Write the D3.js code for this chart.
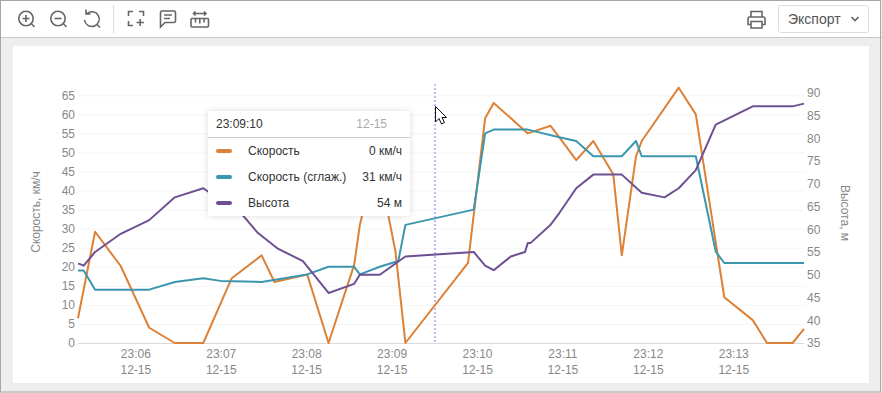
<!DOCTYPE html>
<html>
<head>
<meta charset="utf-8">
<style>
  html, body { margin: 0; padding: 0; background: #fff; }
  svg { display: block; font-family: "Liberation Sans", Arial, sans-serif; }
  .grid line { stroke: #f5f5f5; }
  .grid path { display: none; }
  .tick-label text { fill: #888; font-size: 12px; }
  .icon { fill: none; stroke: #666; stroke-width: 1.6; }
</style>
<script src="https://cdnjs.cloudflare.com/ajax/libs/d3/7.8.5/d3.min.js"></script>
</head>
<body>
<svg id="chart" width="882" height="393"></svg>
<script>
// data
const leftTicks = [0, 5, 10, 15, 20, 25, 30, 35, 40, 45, 50, 55, 60, 65];
const rightTicks = [35, 40, 45, 50, 55, 60, 65, 70, 75, 80, 85, 90];
const minuteTicks = ['23:06:00', '23:07:00', '23:08:00', '23:09:00', '23:10:00', '23:11:00', '23:12:00', '23:13:00'];
const dateLabel = '12-15';

const speedTimes = ['23:05:19', '23:05:31', '23:05:49', '23:06:09', '23:06:27', '23:06:47', '23:07:07', '23:07:28', '23:07:37', '23:08:00', '23:08:15', '23:08:33', '23:08:37', '23:08:46', '23:08:57', '23:09:02', '23:09:09', '23:09:53', '23:10:05', '23:10:11', '23:10:35', '23:10:51', '23:10:57', '23:11:09', '23:11:21', '23:11:35', '23:11:41', '23:11:51', '23:11:55', '23:12:21', '23:12:33', '23:12:53', '23:13:13', '23:13:23', '23:13:41', '23:13:49'];
const speedValues = [6.5, 29.2, 20.2, 4, 0, 0, 17, 23, 16, 18, 0, 20.5, 31, 45, 33.5, 24, 0, 21, 59, 63, 55, 57, 54, 48, 53, 44.3, 23, 49, 53, 67, 60, 12, 6, 0, 0, 3.7];

const smoothTimes = ['23:05:19', '23:05:23', '23:05:31', '23:06:09', '23:06:27', '23:06:47', '23:06:59', '23:07:28', '23:08:00', '23:08:15', '23:08:33', '23:08:37', '23:08:51', '23:09:04', '23:09:09', '23:09:57', '23:10:05', '23:10:11', '23:10:35', '23:10:57', '23:11:09', '23:11:21', '23:11:41', '23:11:51', '23:11:55', '23:12:33', '23:12:47', '23:12:53', '23:13:49'];
const smoothValues = [19, 19, 14, 14, 16, 17, 16.3, 16, 18, 20, 20, 18, 20, 21.5, 31, 35, 55, 56, 56, 54, 53, 49, 49, 53, 49, 49, 24, 21, 21];

const heightTimes = ['23:05:19', '23:05:23', '23:05:31', '23:05:49', '23:06:09', '23:06:27', '23:06:47', '23:07:15', '23:07:25', '23:07:39', '23:07:57', '23:08:15', '23:08:33', '23:08:37', '23:08:51', '23:09:09', '23:09:57', '23:10:05', '23:10:11', '23:10:23', '23:10:33', '23:10:35', '23:10:37', '23:10:51', '23:10:57', '23:11:09', '23:11:21', '23:11:41', '23:11:55', '23:12:11', '23:12:21', '23:12:33', '23:12:47', '23:13:13', '23:13:41', '23:13:49'];
const heightValues = [52.5, 52, 55, 59, 62, 67, 69, 63, 59.3, 55.8, 53, 46, 48, 50, 50, 54, 55, 52, 51, 54, 55, 57, 57, 61, 63.5, 69, 72, 72, 68, 67, 69, 73, 83, 87, 87, 87.6];

const tooltipTime = '23:09:10';
const tooltipRows = ['Скорость', 'Скорость (сглаж.)', 'Высота'];
const tooltipValues = ['0 км/ч', '31 км/ч', '54 м'];

const COLORS = ['#dd8136', '#3a97ae', '#6f4f93'];
const parseTime = d3.timeParse('%H:%M:%S');
const svg = d3.select('#chart');

// page frame
svg.append('rect').attr('width', 882).attr('height', 393).attr('fill', '#eeeeee');
svg.append('rect').attr('x', 1).attr('y', 1).attr('width', 880).attr('height', 36).attr('fill', '#fff');
svg.append('line').attr('x1', 0).attr('x2', 882).attr('y1', 37.5).attr('y2', 37.5).attr('stroke', '#c8c8c8');
svg.append('rect').attr('x', 13).attr('y', 46).attr('width', 856).attr('height', 337).attr('fill', '#fff');
svg.append('rect').attr('x', 0.5).attr('y', 0.5).attr('width', 880).attr('height', 391.5)
    .attr('fill', 'none').attr('stroke', '#a6a6a6');

// toolbar
svg.append('rect').attr('x', 778.5).attr('y', 5.5).attr('width', 90).attr('height', 27).attr('rx', 2)
    .attr('fill', '#fff').attr('stroke', '#ddd');
svg.append('text').attr('x', 788).attr('y', 24).attr('font-size', 14).attr('fill', '#555').text('Экспорт');
svg.append('line').attr('x1', 113.5).attr('x2', 113.5).attr('y1', 5).attr('y2', 33).attr('stroke', '#ddd');
const icons = svg.append('g').attr('class', 'icon');
const lens = (cx, cy) => {
    icons.append('circle').attr('cx', cx).attr('cy', cy).attr('r', 7.2);
    icons.append('path').attr('d', `M${cx + 5.3} ${cy + 5.3}L${cx + 8.5} ${cy + 8.5}`);
};
lens(26, 18.5);
icons.append('path').attr('d', 'M22.5 18.5H29.5M26 15V22');
lens(58, 18.5);
icons.append('path').attr('d', 'M54.5 18.5H61.5');
icons.append('path').attr('d', 'M87 13.5A7.4 7.4 0 1 1 84.5 20M86 9.5V14H90.5');
icons.append('path').attr('d', 'M96.5 24L100 27.5');
icons.append('path').attr('d', 'M128.5 16V11.5H133M139 11.5H143.5V16M128.5 21V25.5H133');
icons.append('path').attr('d', 'M136.5 22.5H144M140.2 19V26');
icons.append('path').attr('d', 'M160.5 27V12.5Q160.5 11 162 11H174Q175.5 11 175.5 12.5V21Q175.5 22.5 174 22.5H165ZM164 15H172M164 18.5H170');
icons.append('path').attr('d', 'M192 18.5H207.5Q208.5 18.5 208.5 19.5V26Q208.5 27 207.5 27H192Q191 27 191 26V19.5Q191 18.5 192 18.5ZM195.5 19V22.5M199.8 19V23.5M204 19V22.5M193.5 13.5H206M195.5 11.5L193.5 13.5L195.5 15.5M204 11.5L206 13.5L204 15.5');
icons.append('path').attr('d', 'M751 17V11.5H762V17M751 24.5H748V18.5Q748 17 749.5 17H763.5Q765 17 765 18.5V24.5H762M751 21.5H762V28H751Z');
icons.append('path').attr('d', 'M851.5 17L855 20.5L858.5 17');

// scales
const x = d3.scaleTime().domain([parseTime('23:05:19'), parseTime('23:13:49')]).range([78, 804]);
const yLeft = d3.scaleLinear().domain([0, 65]).range([343, 95.3]);
const yRight = d3.scaleLinear().domain([35, 90]).range([343, 92.7]);

// grid
svg.append('g').attr('class', 'grid')
    .attr('transform', 'translate(78,0)')
    .call(d3.axisRight(yLeft).tickValues(leftTicks).tickSize(726).tickFormat(''));

svg.append('line').attr('x1', 78).attr('x2', 804).attr('y1', 343.5).attr('y2', 343.5).attr('stroke', '#d9d9d9');

// axes labels
const leftAxis = svg.append('g').attr('class', 'tick-label').attr('transform', 'translate(78,0)')
    .call(d3.axisLeft(yLeft).tickValues(leftTicks).tickSize(0).tickPadding(3));
leftAxis.select('.domain').remove();
const rightAxis = svg.append('g').attr('class', 'tick-label').attr('transform', 'translate(804,0)')
    .call(d3.axisRight(yRight).tickValues(rightTicks).tickSize(0).tickPadding(3));
rightAxis.select('.domain').remove();
svg.selectAll('.tick-label text').style('font-family', 'inherit').style('font-size', '12px');

const bottomAxis = svg.append('g').attr('class', 'tick-label').attr('transform', 'translate(-1,343)')
    .call(d3.axisBottom(x).tickValues(minuteTicks.map(parseTime)).tickSize(0).tickPadding(6).tickFormat(d3.timeFormat('%H:%M')));
bottomAxis.select('.domain').remove();
bottomAxis.selectAll('.tick').append('text')
    .attr('y', 31).attr('text-anchor', 'middle').text(dateLabel);
bottomAxis.selectAll('text').style('font-family', 'inherit').style('font-size', '12px');

svg.append('text').attr('transform', 'translate(40,212) rotate(-90)')
    .attr('text-anchor', 'middle').attr('font-size', 12).attr('fill', '#888').text('Скорость, км/ч');
svg.append('text').attr('transform', 'translate(841,213) rotate(90)')
    .attr('text-anchor', 'middle').attr('font-size', 12).attr('fill', '#888').text('Высота, м');

// crosshair
const crossX = 435;
svg.append('line').attr('x1', crossX).attr('x2', crossX).attr('y1', 84).attr('y2', 343)
    .attr('stroke', '#bcbcff').attr('stroke-width', 2).attr('stroke-dasharray', '2 2');

// lines
const drawLine = (times, values, yScale, color) => {
    const pts = times.map((t, i) => [parseTime(t), values[i]]);
    const line = d3.line().x((d) => x(d[0])).y((d) => yScale(d[1]));
    svg.append('path').datum(pts).attr('d', line)
        .attr('fill', 'none').attr('stroke', color).attr('stroke-width', 2).attr('stroke-linejoin', 'round');
};
drawLine(speedTimes, speedValues, yLeft, COLORS[0]);
drawLine(smoothTimes, smoothValues, yLeft, COLORS[1]);
drawLine(heightTimes, heightValues, yRight, COLORS[2]);

// tooltip
const defs = svg.append('defs');
const shadow = defs.append('filter').attr('id', 'shadow').attr('x', '-10%').attr('y', '-10%').attr('width', '120%').attr('height', '120%');
shadow.append('feDropShadow').attr('dx', 0).attr('dy', 0).attr('stdDeviation', 3).attr('flood-color', '#000').attr('flood-opacity', 0.14);

const tip = svg.append('g').attr('transform', 'translate(208,111)');
tip.append('rect').attr('width', 202).attr('height', 105).attr('fill', '#fff').attr('filter', 'url(#shadow)');
tip.append('text').attr('x', 8).attr('y', 17).attr('font-size', 12).attr('fill', '#333').text(tooltipTime);
tip.append('text').attr('x', 179).attr('y', 17).attr('text-anchor', 'end').attr('font-size', 12).attr('fill', '#aaa').text(dateLabel);
tip.append('line').attr('x1', 0).attr('x2', 202).attr('y1', 26.5).attr('y2', 26.5).attr('stroke', '#ccc');
const rows = tip.selectAll('.row').data(tooltipRows).enter().append('g')
    .attr('class', 'row').attr('transform', (d, i) => `translate(0,${40 + i * 26})`);
rows.append('rect').attr('x', 8).attr('y', -2).attr('width', 16).attr('height', 4).attr('rx', 2)
    .attr('fill', (d, i) => COLORS[i]);
rows.append('text').attr('x', 40).attr('y', 4).attr('font-size', 12).attr('fill', '#333').text((d) => d);
rows.append('text').attr('x', 194).attr('y', 4).attr('text-anchor', 'end').attr('font-size', 12).attr('fill', '#333')
    .text((d, i) => tooltipValues[i]);

// mouse pointer
svg.append('path').attr('d', 'M435.5 106.5V122L439 118.5L441.5 124L444.5 122.5L442 117.5H446.5Z')
    .attr('fill', '#fff').attr('stroke', '#111').attr('stroke-width', 1);
</script>
</body>
</html>
